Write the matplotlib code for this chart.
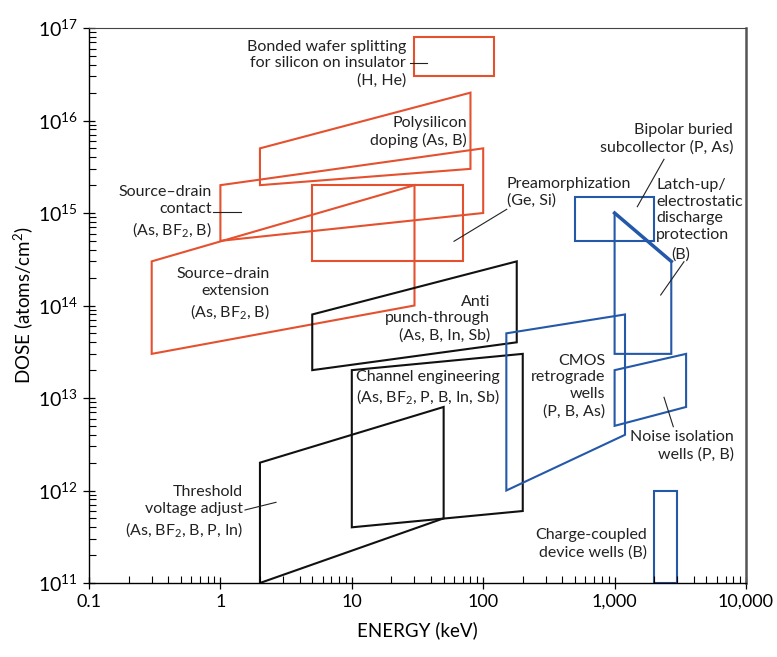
import numpy as np
import matplotlib
matplotlib.use("Agg")
import matplotlib.pyplot as plt

plt.rcParams['font.family'] = ['Lato', 'DejaVu Sans']
plt.rcParams['mathtext.fontset'] = 'custom'
plt.rcParams['mathtext.rm'] = 'Lato'
plt.rcParams['mathtext.it'] = 'Lato:italic'
plt.rcParams['mathtext.default'] = 'regular'

RED = '#E5502E'
BLUE = '#2458A8'
BLACK = '#111111'

# ---- regions: energy (keV) and dose (atoms/cm2) corners ----
bonded_e = [30, 30, 120, 120]
bonded_d = [3e16, 8e16, 8e16, 3e16]
poly_e = [2, 2, 80, 80]
poly_d = [2e15, 5e15, 2e16, 3e15]
sdc_e = [1, 1, 100, 100]
sdc_d = [5e14, 2e15, 5e15, 1e15]
preamorph_e = [5, 5, 70, 70]
preamorph_d = [3e14, 2e15, 2e15, 3e14]
sde_e = [0.3, 0.3, 30, 30]
sde_d = [3e13, 3e14, 2e15, 1e14]
anti_e = [5, 5, 180, 180]
anti_d = [2e13, 8e13, 3e14, 4e13]
channel_e = [10, 10, 200, 200]
channel_d = [4e11, 2e13, 3e13, 6e11]
vt_e = [2, 2, 50, 50]
vt_d = [1e11, 2e12, 8e12, 5e11]
bipolar_e = [500, 500, 2000, 2000]
bipolar_d = [5e14, 1.5e15, 1.5e15, 5e14]
latch_e = [1000, 1000, 2700, 2700]
latch_d = [3e13, 1e15, 3e14, 3e13]
cmos_e = [150, 150, 1200, 1200]
cmos_d = [1e12, 5e13, 8e13, 4e12]
noise_e = [1000, 1000, 3500, 3500]
noise_d = [5e12, 2e13, 3e13, 8e12]
ccd_e = [2000, 2000, 3000, 3000]
ccd_d = [1e11, 1e12, 1e12, 1e11]

x_ticks = [0.1, 1, 10, 100, 1000, 10000]
x_labels = ['0.1', '1', '10', '100', '1,000', '10,000']
y_ticks = [1e11, 1e12, 1e13, 1e14, 1e15, 1e16, 1e17]
y_labels = ['$10^{%d}$' % k for k in range(11, 18)]

regions = [
    (bonded_e, bonded_d, RED), (poly_e, poly_d, RED), (sdc_e, sdc_d, RED),
    (preamorph_e, preamorph_d, RED), (sde_e, sde_d, RED),
    (anti_e, anti_d, BLACK), (channel_e, channel_d, BLACK), (vt_e, vt_d, BLACK),
    (bipolar_e, bipolar_d, BLUE), (latch_e, latch_d, BLUE), (cmos_e, cmos_d, BLUE),
    (noise_e, noise_d, BLUE), (ccd_e, ccd_d, BLUE),
]


def px(x, y):
    # image pixel -> data coords (for label placement)
    return 10 ** ((x - 89) / 131.4 - 1), 10 ** (17 - (y - 28) / 92.5)


fig = plt.figure(figsize=(7.77, 6.57), dpi=100)
ax = fig.add_axes([89 / 777, 74 / 657, 657 / 777, 555 / 657])
ax.set_xscale('log')
ax.set_yscale('log')
ax.set_xlim(0.1, 10000)
ax.set_ylim(1e11, 1e17)

for e, d, c in regions:
    ax.fill(e, d, facecolor='none', edgecolor=c, linewidth=1.5, joinstyle='miter')

# thicker diagonal of latch-up region
ax.plot(latch_e[1:3], latch_d[1:3], color=BLUE, linewidth=2.5)

# ---- labels ----
fs = 11.5
labels = [
    ("Bonded wafer splitting\nfor silicon on insulator\n(H, He)", 406, 63.5, 'right'),
    ("Polysilicon\ndoping (As, B)", 467, 131.7, 'right'),
    ("Source–drain\ncontact\n(As, BF$_2$, B)", 212, 212, 'right'),
    ("Source–drain\nextension\n(As, BF$_2$, B)", 270, 294, 'right'),
    ("Preamorphization\n(Ge, Si)", 507, 192.5, 'left'),
    ("Bipolar buried\nsubcollector (P, As)", 733, 139, 'right'),
    ("Latch-up/\nelectrostatic\ndischarge\nprotection", 656, 210, 'left'),
    ("(B)", 681, 255, 'center'),
    ("Anti\npunch-through\n(As, B, In, Sb)", 490, 318.7, 'right'),
    ("Channel engineering\n(As, BF$_2$, P, B, In, Sb)", 356, 388, 'left'),
    ("CMOS\nretrograde\nwells\n(P, B, As)", 605, 386, 'right'),
    ("Noise isolation\nwells (P, B)", 734, 446, 'right'),
    ("Charge-coupled\ndevice wells (B)", 647, 543.7, 'right'),
    ("Threshold\nvoltage adjust\n(As, BF$_2$, B, P, In)", 243, 512, 'right'),
]
for txt, x, y, ha in labels:
    ax.text(*px(x, y), txt, ha=ha, va='center', multialignment=ha,
            fontsize=fs, linespacing=1.25, color='#222222')

leaders = [
    ((410, 63), (427, 63)),
    ((213, 212), (241, 212)),
    ((506.7, 209.3), (454, 241.3)),
    ((664, 159.3), (637.3, 206.7)),
    ((684, 261.7), (660.7, 295)),
    ((673.3, 426.7), (664, 397.3)),
    ((245, 510), (276, 502.3)),
]
for a, b in leaders:
    pa, pb = px(*a), px(*b)
    ax.plot([pa[0], pb[0]], [pa[1], pb[1]], color='#222222', linewidth=0.8)

# ---- axes styling ----
ax.set_xticks(x_ticks)
ax.set_xticklabels(x_labels, fontsize=13)
ax.set_yticks(y_ticks)
ax.set_yticklabels(y_labels, fontsize=14)
ax.tick_params(which='major', direction='inout', length=8, width=0.9, pad=4)
ax.tick_params(which='minor', direction='in', length=5, width=0.8)
ax.tick_params(top=False, right=False, which='both')
for s in ['left', 'bottom']:
    ax.spines[s].set_linewidth(1.0)
ax.spines['top'].set_color('#444444')
ax.spines['right'].set_color('#555555')
ax.spines['right'].set_linewidth(1.8)

ax.set_xlabel('ENERGY (keV)', fontsize=13.5, labelpad=8)
ax.set_ylabel('DOSE (atoms/cm$^2$)', fontsize=13.5, labelpad=2)

fig.savefig('out.png', dpi=100)
